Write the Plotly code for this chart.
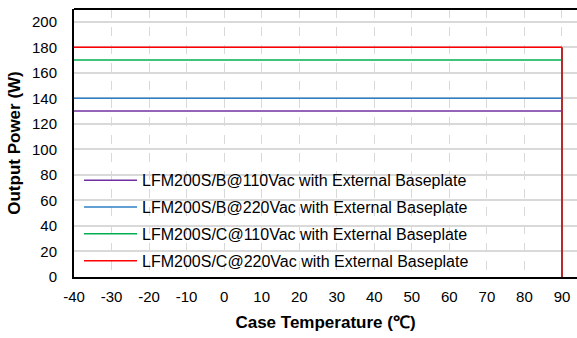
import plotly.graph_objects as go

series_names = [
    "LFM200S/B@110Vac with External Baseplate",
    "LFM200S/B@220Vac with External Baseplate",
    "LFM200S/C@110Vac with External Baseplate",
    "LFM200S/C@220Vac with External Baseplate",
]
series_colors = ["#7030a0", "#2e7fc4", "#00b050", "#ff0000"]
temps = [-40, 90]
power_b110 = [130, 130]
power_b220 = [140, 140]
power_c110 = [170, 170]
power_c220 = [180, 180]
all_power = [power_b110, power_b220, power_c110, power_c220]
# derating cut-off at max case temperature (all curves drop to 0 at 90 ℃)
cutoff_temp = [90, 90]
cutoff_power = [180, 0]

x_ticks = list(range(-40, 100, 10))
y_ticks = list(range(0, 220, 20))

fig = go.Figure()
for i, (name, color, vals) in enumerate(zip(series_names, series_colors, all_power)):
    fig.add_trace(go.Scatter(
        x=temps, y=vals, mode="lines", name=name,
        line=dict(color=color, width=1.5),
        legendgroup=f"g{i}",
    ))
fig.add_trace(go.Scatter(
    x=cutoff_temp, y=cutoff_power, mode="lines", showlegend=False,
    line=dict(color="#b8292b", width=2), hoverinfo="skip",
))

font = "Liberation Sans, Arial, sans-serif"
fig.update_layout(
    width=577, height=338,
    margin=dict(l=74, r=0, t=9, b=61),
    paper_bgcolor="white", plot_bgcolor="white",
    font=dict(family=font, size=15, color="black"),
    showlegend=True,
    legend=dict(
        x=0.01, y=-0.005, xanchor="left", yanchor="bottom",
        bgcolor="rgba(0,0,0,0)", borderwidth=0,
        font=dict(size=16, family=font),
        traceorder="grouped", tracegroupgap=3,
        itemwidth=53,
    ),
    xaxis=dict(
        range=[-40, 94], tickmode="array", tickvals=x_ticks,
        ticktext=[str(v) for v in x_ticks],
        showgrid=True, gridcolor="#d9d9d9", griddash="dash", gridwidth=1,
        showline=True, linecolor="black", linewidth=2,
        mirror=False, ticks="", zeroline=False,
        ticklabelstandoff=5,
        title=dict(text="<b>Case Temperature (℃)</b>", font=dict(size=17, family=font), standoff=12),
    ),
    yaxis=dict(
        range=[0, 210], tickmode="array", tickvals=y_ticks,
        ticktext=[str(v) for v in y_ticks],
        showgrid=True, gridcolor="#d9d9d9", gridwidth=1.5,
        showline=True, linecolor="black", linewidth=2,
        ticks="", zeroline=False,
        ticklabelstandoff=12,
        title=dict(text="<b>Output Power (W)</b>", font=dict(size=17, family=font), standoff=7),
    ),
)
fig.add_shape(type="line", xref="paper", yref="paper", x0=0, x1=1, y0=1, y1=1,
              line=dict(color="black", width=2))

fig.write_html("out.html")
